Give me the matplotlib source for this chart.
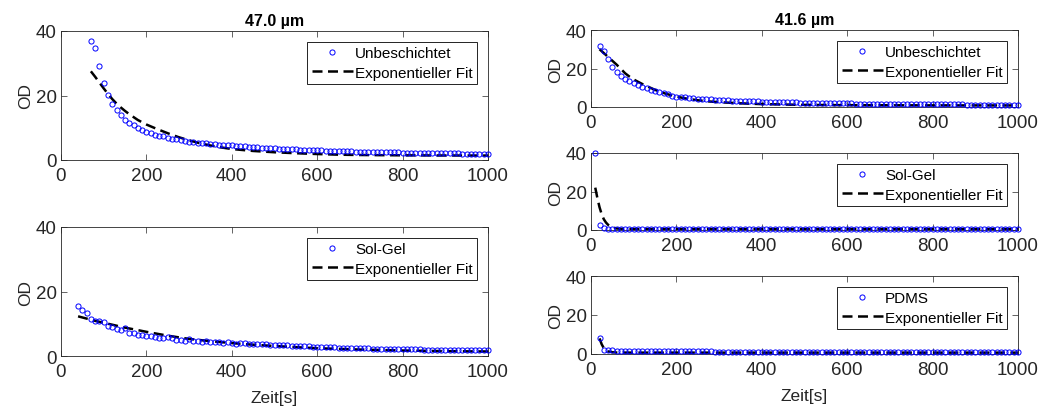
import numpy as np
import matplotlib
matplotlib.use("Agg")
import matplotlib.pyplot as plt

plt.rcParams['font.family'] = ['Liberation Sans', 'DejaVu Sans']

# ---------------- data ----------------
titles = ["47.0 µm", "41.6 µm"]
xlabel = "Zeit[s]"
ylabel = "OD"
fit_label = "Exponentieller Fit"
xticks = [0, 200, 400, 600, 800, 1000]
yticks = [0, 20, 40]

# 47.0 um, Unbeschichtet (t = 70 ... 1000 s, step 10)
unb47_start = 70
unb47_od = [37.0, 34.8, 29.2, 24.0, 20.2, 17.5, 15.6, 13.9, 12.5, 11.6,
            10.8, 10.0, 9.3, 8.7, 8.3, 7.9, 7.5, 7.3, 6.9, 6.6,
            6.4, 6.1, 5.9, 5.7, 5.6, 5.4, 5.3, 5.2, 5.0, 4.9,
            4.8, 4.7, 4.6, 4.5, 4.4, 4.3, 4.2, 4.1, 4.0, 3.9,
            3.8, 3.8, 3.7, 3.6, 3.5, 3.5, 3.4, 3.3, 3.3, 3.2,
            3.2, 3.1, 3.1, 3.0, 3.0, 2.9, 2.9, 2.8, 2.8, 2.7,
            2.7, 2.7, 2.6, 2.6, 2.6, 2.5, 2.5, 2.5, 2.5, 2.4,
            2.4, 2.4, 2.4, 2.3, 2.3, 2.3, 2.3, 2.2, 2.2, 2.2,
            2.2, 2.2, 2.1, 2.1, 2.1, 2.1, 2.1, 2.0, 2.0, 2.0,
            2.0, 2.0, 2.0, 2.0]
unb47_fit_t = [70, 80, 90, 100, 110, 120, 130, 140, 150, 160, 180, 200, 225,
               250, 275, 300, 325, 350, 375, 400, 450, 500, 550, 600, 650,
               700, 800, 900, 1000]
unb47_fit = [27.5, 25.8, 24.0, 22.2, 20.5, 18.9, 17.5, 16.3, 15.2, 14.2, 12.4,
             11.0, 9.6, 8.3, 7.1, 6.1, 5.2, 4.5, 3.9, 3.4, 2.8, 2.4, 2.1, 1.85,
             1.65, 1.55, 1.45, 1.4, 1.38]

# 47.0 um, Sol-Gel (t = 40 ... 1000 s, step 10)
sg47_start = 40
sg47_od = [15.4, 14.4, 13.3, 11.6, 11.0, 10.8, 10.4, 9.2, 9.0, 8.5,
           8.2, 8.7, 7.2, 7.1, 6.5, 6.4, 6.3, 6.1, 6.0, 5.7,
           5.5, 5.9, 5.5, 5.1, 5.1, 4.8, 5.2, 4.7, 4.5, 4.4,
           4.5, 4.4, 4.2, 4.2, 4.1, 4.3, 4.0, 3.6, 3.9, 3.9,
           3.8, 3.7, 3.6, 3.6, 3.6, 3.5, 3.5, 3.4, 3.4, 3.3,
           3.2, 3.2, 3.1, 3.1, 3.0, 2.9, 2.9, 2.8, 2.8, 2.7,
           2.7, 2.6, 2.6, 2.5, 2.5, 2.5, 2.4, 2.4, 2.4, 2.3,
           2.3, 2.3, 2.2, 2.2, 2.2, 2.2, 2.1, 2.1, 2.1, 2.1,
           2.1, 2.0, 2.0, 2.0, 2.0, 2.0, 2.0, 2.0, 1.9, 1.9,
           1.9, 1.9, 1.9, 1.9, 1.9, 1.9, 1.9]
sg47_fit_t = [40, 60, 80, 100, 150, 200, 250, 300, 350, 400, 450, 500, 600,
              700, 800, 900, 1000]
sg47_fit = [12.3, 11.6, 10.9, 10.3, 8.8, 7.5, 6.3, 5.3, 4.6, 4.0, 3.5, 3.1,
            2.4, 2.0, 1.7, 1.5, 1.4]

# 41.6 um, Unbeschichtet (t = 20 ... 1000 s, step 10)
unb41_start = 20
unb41_od = [31.5, 29.1, 25.1, 20.6, 18.0, 16.3, 14.7, 13.3, 12.6, 11.6,
            10.6, 9.7, 9.0, 8.5, 7.9, 7.2, 6.6, 5.9, 5.4, 5.3,
            5.0, 4.8, 4.6, 4.4, 4.2, 4.0, 3.9, 3.7, 3.6, 3.5,
            3.4, 3.3, 3.2, 3.1, 3.0, 3.0, 2.9, 2.9, 2.8, 2.7,
            2.7, 2.6, 2.6, 2.5, 2.5, 2.4, 2.4, 2.3, 2.3, 2.2,
            2.2, 2.2, 2.1, 2.1, 2.0, 2.0, 2.0, 1.9, 1.9, 1.9,
            1.8, 1.8, 1.8, 1.8, 1.7, 1.7, 1.7, 1.7, 1.7, 1.6,
            1.6, 1.6, 1.6, 1.5, 1.5, 1.5, 1.5, 1.4, 1.4, 1.4,
            1.4, 1.3, 1.3, 1.3, 1.3, 1.3, 1.2, 1.2, 1.2, 1.2,
            1.2, 1.1, 1.1, 1.1, 1.1, 1.1, 1.0, 1.0, 1.0]
unb41_fit_t = [20, 30, 40, 50, 60, 70, 80, 90, 100, 110, 125, 150, 175, 200,
               225, 250, 275, 300, 350, 400, 500, 600, 800, 1000]
unb41_fit = [30.0, 28.0, 26.0, 24.0, 22.0, 19.8, 17.5, 15.8, 14.3, 13.1, 11.4,
             8.9, 6.9, 5.4, 4.3, 3.5, 2.9, 2.5, 1.9, 1.5, 1.1, 0.95, 0.85, 0.8]

# 41.6 um, Sol-Gel (t = 10 ... 1000 s, step 10)
sg41_start = 10
sg41_od = [40.0, 2.4, 0.8, 0.7, 0.7, 0.6, 0.6, 0.6, 0.6, 0.6,
           0.6, 0.6, 0.6, 0.6, 0.6, 0.6, 0.6, 0.6, 0.6, 0.6,
           0.6, 0.6, 0.6, 0.6, 0.6, 0.6, 0.6, 0.6, 0.6, 0.6,
           0.6, 0.6, 0.6, 0.6, 0.6, 0.6, 0.6, 0.6, 0.6, 0.6,
           0.6, 0.6, 0.6, 0.6, 0.6, 0.6, 0.6, 0.6, 0.6, 0.6,
           0.6, 0.6, 0.6, 0.6, 0.6, 0.6, 0.6, 0.6, 0.6, 0.6,
           0.6, 0.6, 0.6, 0.6, 0.6, 0.6, 0.6, 0.6, 0.6, 0.6,
           0.6, 0.6, 0.6, 0.6, 0.6, 0.6, 0.6, 0.6, 0.6, 0.6,
           0.6, 0.6, 0.6, 0.6, 0.6, 0.6, 0.6, 0.6, 0.6, 0.6,
           0.6, 0.6, 0.6, 0.6, 0.6, 0.6, 0.6, 0.6, 0.6, 0.6]
sg41_fit_t = [10, 15, 20, 25, 30, 35, 40, 50, 60, 70, 100, 1000]
sg41_fit = [22.0, 16.5, 11.8, 8.2, 5.6, 3.9, 2.7, 1.4, 0.8, 0.6, 0.5, 0.5]

# 41.6 um, PDMS (t = 20 ... 1000 s, step 10)
pdms41_start = 20
pdms41_od = [8.4, 2.2, 1.9, 1.8, 1.7, 1.6, 1.6, 1.6, 1.5, 1.5,
             1.5, 1.5, 1.5, 1.5, 1.4, 1.4, 1.4, 1.4, 1.4, 1.4,
             1.3, 1.3, 1.3, 1.3, 1.3, 1.3, 1.3, 1.2, 1.2, 1.2,
             1.2, 1.2, 1.2, 1.2, 1.2, 1.1, 1.1, 1.1, 1.1, 1.1,
             1.1, 1.1, 1.1, 1.1, 1.0, 1.0, 1.0, 1.0, 1.0, 1.0,
             1.0, 1.0, 1.0, 1.0, 1.0, 1.0, 1.0, 0.9, 0.9, 0.9,
             0.9, 0.9, 0.9, 0.9, 0.9, 0.9, 0.9, 0.9, 0.9, 0.9,
             0.9, 0.9, 0.9, 0.9, 0.9, 0.9, 0.9, 0.9, 0.9, 0.9,
             0.9, 0.9, 0.9, 0.85, 0.85, 0.85, 0.85, 0.85, 0.85, 0.85,
             0.85, 0.85, 0.85, 0.85, 0.85, 0.85, 0.85, 0.85, 0.85]
pdms41_fit_t = [20, 25, 30, 35, 40, 50, 60, 100, 1000]
pdms41_fit = [8.0, 5.0, 3.0, 1.9, 1.3, 0.9, 0.75, 0.7, 0.7]

# ---------------- figure ----------------
W, H = 1043, 414
fig = plt.figure(figsize=(W / 100, H / 100), dpi=100)

def rect(x0, y0, x1, y1):
    return [x0 / W, 1 - y1 / H, (x1 - x0) / W, (y1 - y0) / H]

axc = '#262626'
panels = [
    (rect(61, 32, 488, 161), unb47_start, unb47_od, unb47_fit_t, unb47_fit, "Unbeschichtet", titles[0], False),
    (rect(61, 228, 488, 357), sg47_start, sg47_od, sg47_fit_t, sg47_fit, "Sol-Gel", None, True),
    (rect(591, 31, 1018, 108), unb41_start, unb41_od, unb41_fit_t, unb41_fit, "Unbeschichtet", titles[1], False),
    (rect(591, 154, 1018, 231), sg41_start, sg41_od, sg41_fit_t, sg41_fit, "Sol-Gel", None, False),
    (rect(591, 277, 1018, 355), pdms41_start, pdms41_od, pdms41_fit_t, pdms41_fit, "PDMS", None, True),
]

for pos, start, od, ft, fv, lab, title, showx in panels:
    ax = fig.add_axes(pos)
    t = start + 10 * np.arange(len(od))
    ax.plot(t, od, linestyle='none', marker='o', markersize=3.7,
            markerfacecolor='none', markeredgecolor=(0, 0, 1),
            markeredgewidth=0.7, label=lab, clip_on=False, zorder=3)
    ax.plot(ft, fv, color='black', linestyle=(0, (4.0, 2.2)), linewidth=1.8,
            label=fit_label, zorder=2)
    ax.set_xlim(0, 1000)
    ax.set_ylim(0, 40)
    ax.set_xticks(xticks)
    ax.set_yticks(yticks)
    ax.tick_params(direction='in', length=4, width=0.5, colors=axc,
                   labelsize=13.5, top=True, right=True)
    ax.tick_params(axis='x', pad=5)
    ax.tick_params(axis='y', pad=3)
    for s in ax.spines.values():
        s.set_color(axc)
        s.set_linewidth(0.6)
    ax.set_ylabel(ylabel, fontsize=12.5, color=axc, labelpad=2)
    if showx:
        ax.set_xlabel(xlabel, fontsize=12.5, color=axc, labelpad=7)
    if title:
        ax.set_title(title, fontsize=11.5, fontweight='bold', pad=4)
    leg = ax.legend(loc='upper right', fontsize=11, frameon=True,
                    fancybox=False, framealpha=1, edgecolor='black',
                    handlelength=2.7, handletextpad=0.15, labelspacing=0.35,
                    borderpad=0.3, borderaxespad=0.7)
    leg.get_frame().set_linewidth(0.6)

fig.savefig("out.png", dpi=100)
